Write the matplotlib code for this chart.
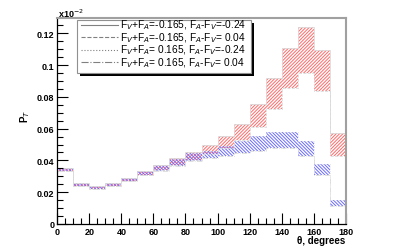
import numpy as np
import matplotlib
matplotlib.use('Agg')
import matplotlib.pyplot as plt
from matplotlib.patches import Rectangle
from matplotlib.lines import Line2D

plt.rcParams['font.family'] = ['Liberation Sans', 'DejaVu Sans']
plt.rcParams['hatch.linewidth'] = 0.7

edges = np.arange(0, 190, 10)
red_hi = [0.0350, 0.0256, 0.0237, 0.0256, 0.0291, 0.0331, 0.0373, 0.0413, 0.0451, 0.0495,
          0.0555, 0.0629, 0.0755, 0.0916, 0.1107, 0.1237, 0.1094, 0.0570]
red_lo = [0.0331, 0.0237, 0.0218, 0.0237, 0.0268, 0.0306, 0.0338, 0.0370, 0.0400, 0.0440,
          0.0476, 0.0530, 0.0608, 0.0723, 0.0853, 0.0948, 0.0839, 0.0426]
blue_hi = [0.0350, 0.0256, 0.0237, 0.0256, 0.0291, 0.0331, 0.0371, 0.0410, 0.0445, 0.0460,
           0.0488, 0.0524, 0.0552, 0.0577, 0.0577, 0.0524, 0.0377, 0.0153]
blue_lo = [0.0331, 0.0237, 0.0218, 0.0237, 0.0268, 0.0306, 0.0335, 0.0367, 0.0394, 0.0413,
           0.0430, 0.0445, 0.0461, 0.0478, 0.0478, 0.0430, 0.0308, 0.0115]
labels = ['F$_V$+F$_A$=-0.165, F$_A$-F$_V$=-0.24',
          'F$_V$+F$_A$=-0.165, F$_A$-F$_V$= 0.04',
          'F$_V$+F$_A$= 0.165, F$_A$-F$_V$=-0.24',
          'F$_V$+F$_A$= 0.165, F$_A$-F$_V$= 0.04']
styles = ['-', '--', ':', '-.']

W, H = 415, 251
fig = plt.figure(figsize=(W / 100, H / 100), dpi=100)
ax = fig.add_axes([57.3 / W, 1 - 225 / H, (345.7 - 57.3) / W, (225 - 19) / H])

left = edges[:-1]
width = np.diff(edges)
for lo, hi, col, hatch in [(red_lo, red_hi, '#ff6a6a', '//////////'),
                           (blue_lo, blue_hi, '#6a6aff', '\\\\\\\\\\\\\\\\\\\\')]:
    lo = np.array(lo); hi = np.array(hi)
    ax.bar(left, hi - lo, width=width, bottom=lo, align='edge', color='none',
           edgecolor=col, hatch=hatch, linewidth=0)

curves = [red_hi, red_lo, blue_hi, blue_lo]
for c, ls in zip(curves, styles):
    ax.stairs(c, edges, color='#dadada', lw=0.6, ls=ls)

ax.set_xlim(0, 180)
ax.set_ylim(0, 0.1296)
ax.set_xticks(np.arange(0, 181, 20))
ax.set_xticks(np.arange(0, 181, 5), minor=True)
ax.set_yticks(np.arange(0, 0.121, 0.02))
ax.set_yticks(np.arange(0, 0.126, 0.005), minor=True)
ax.set_yticklabels(['0', '0.02', '0.04', '0.06', '0.08', '0.1', '0.12'])
ax.tick_params(which='both', direction='in', top=False, right=False, labelsize=6.5, pad=2)
ax.tick_params(which='major', length=8, width=0.8)
ax.tick_params(which='minor', length=4, width=0.8)
for t in ax.get_xticklabels() + ax.get_yticklabels():
    t.set_fontweight('bold')
for s in ['top', 'right']:
    ax.spines[s].set_color('#a0a0a0')
    ax.spines[s].set_linewidth(1.5)
for s in ['left', 'bottom']:
    ax.spines[s].set_linewidth(0.9)

fig.text(58 / W, 1 - 14 / H, 'x10$^{-2}$', fontsize=6.5, fontweight='bold', va='center')
fig.text(25 / W, 1 - 116 / H, 'P$_T$', fontsize=7, fontweight='bold', rotation=90,
         ha='center', va='center')
fig.text(345 / W, 1 - 241 / H, '\u03b8, degrees', fontsize=7, fontweight='bold',
         ha='right', va='center')

# legend box with shadow
tf = fig.transFigure
bx0, by0, bx1, by1 = 77, 21, 251, 74
fig.patches.append(Rectangle(((bx0 + 3) / W, 1 - (by1 + 3) / H), (bx1 - bx0) / W, (by1 - by0) / H,
                             transform=tf, facecolor='black', edgecolor='none', zorder=5))
fig.patches.append(Rectangle((bx0 / W, 1 - by1 / H), (bx1 - bx0) / W, (by1 - by0) / H,
                             transform=tf, facecolor='white', edgecolor='#909090', lw=0.8, zorder=6))
rows = [25.5, 38, 50.5, 63]
for y, lab, ls in zip(rows, labels, styles):
    fig.lines.append(Line2D([81 / W, 118 / W], [1 - y / H, 1 - y / H], transform=tf,
                            color='#808080', lw=0.8, ls=ls, zorder=7))
    fig.text(120 / W, 1 - y / H, lab, fontsize=7.3, va='center', zorder=8)

fig.savefig('out.png', dpi=100)
